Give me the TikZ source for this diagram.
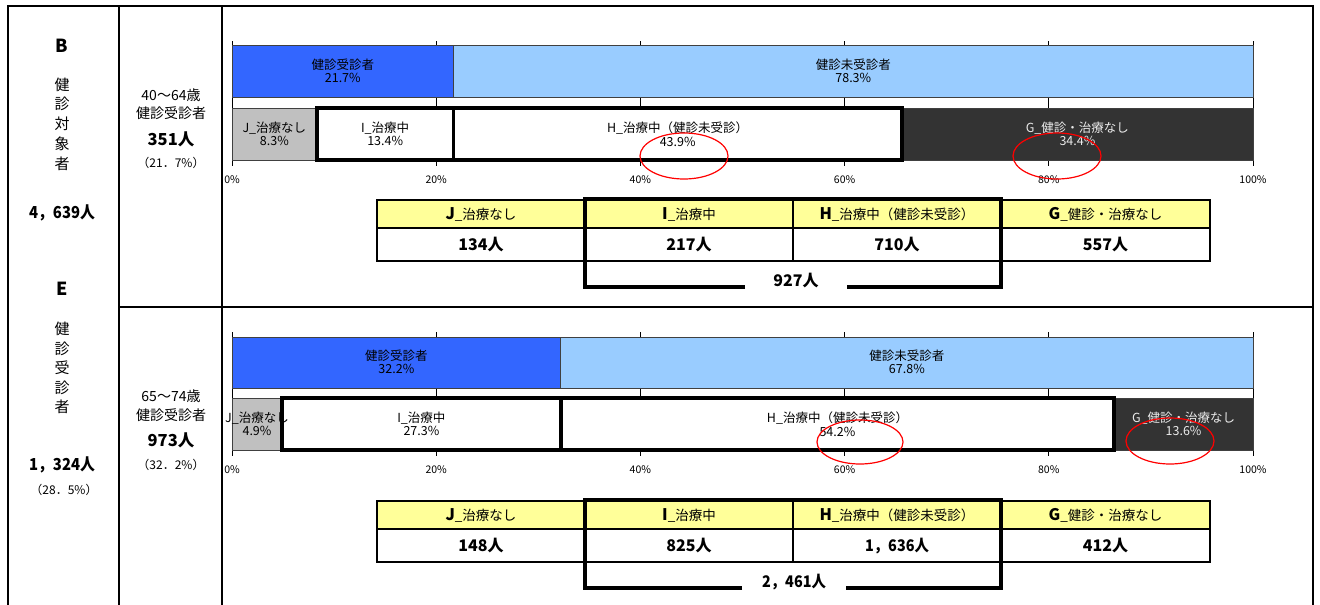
\documentclass[tikz,border=0pt]{standalone}
\usepackage{fontspec}
\setmainfont{Noto Sans CJK JP}
\definecolor{bblue}{HTML}{3366FF}
\definecolor{lblue}{HTML}{99CCFF}
\definecolor{jgray}{HTML}{C0C0C0}
\definecolor{gdark}{HTML}{333333}
\definecolor{hyel}{HTML}{FFFF99}
\newcommand\fs[1]{\fontsize{#1}{#1}\selectfont}
\tikzset{
  frame/.style={line width=2pt},
  lab/.style={align=center, inner sep=0pt, font=\fontsize{12.5}{13.5}\selectfont},
  wlab/.style={lab, text=black!8},
  axl/.style={inner sep=0pt, font=\fs{10.5}},
  seg/.style={draw=black!75, line width=0.8pt},
  thickbox/.style={draw=black, line width=3.6pt},
  oval/.style={draw=red, line width=1.2pt},
  gridl/.style={draw=black, line width=0.8pt},
  cell/.style={draw=black, line width=2pt},
  tframe/.style={draw=black, line width=3.4pt},
  hd/.style={inner sep=0pt},
  val/.style={inner sep=0pt, font=\bfseries\fs{16}},
  big/.style={inner sep=0pt, font=\bfseries\fs{16.5}},
  txt/.style={inner sep=0pt, font=\fs{14}},
  sml/.style={inner sep=0pt, font=\fs{12}},
}
\newcommand\hdr[2]{{\bfseries\fs{16}#1}{\fs{13.5}\_#2}}
\begin{document}
\begin{tikzpicture}[x=1pt,y=-1pt]
\useasboundingbox (0,0) rectangle (1320,605);
% ===== frame =====
\draw[frame] (8,615) -- (8,6) -- (1313,6) -- (1313,615);
\draw[frame] (119,6) -- (119,615);
\draw[frame] (222,6) -- (222,615);
\draw[frame] (119,307) -- (1313,307);
% ===== left column =====
\node[inner sep=0pt, font=\bfseries\fs{18}] (B) at (62,46) {B};
\node[inner sep=0pt, align=center, font=\fontsize{15}{19.7}\selectfont] (Bt) at (62,124) {健\\診\\対\\象\\者};
\node[big] (Bn) at (62,213) {\scalebox{0.9}[1]{4，639人}};
\node[inner sep=0pt, font=\bfseries\fs{18}] (E) at (62,289) {E};
\node[inner sep=0pt, align=center, font=\fontsize{15}{19.5}\selectfont] (Et) at (62,368) {健\\診\\受\\診\\者};
\node[big] (En) at (62,465) {\scalebox{0.9}[1]{1，324人}};
\node[sml] (Ep) at (64,490) {（28．5\%）};
% ===== second column =====
\node[txt] (a1) at (171,95) {40～64歳};
\node[txt] (a2) at (171,113) {健診受診者};
\node[big] (a3) at (171,139) {351人};
\node[sml] (a4) at (171,163) {（21．7\%）};
\node[txt] (b1) at (171,396) {65～74歳};
\node[txt] (b2) at (171,415) {健診受診者};
\node[big] (b3) at (171,440) {973人};
\node[sml] (b4) at (171,465) {（32．2\%）};
% ===== chart 1 =====
\foreach \p in {0,20,...,100} {
  \draw[gridl] ({232+\p*10.21},41) -- ({232+\p*10.21},166);
  \node[axl] (ax1-\p) at ({232+\p*10.21},180) {\p\%};
}
\draw[seg, fill=bblue] (232,45) rectangle ({232+21.7*10.21},97);
\draw[seg, fill=lblue] ({232+21.7*10.21},45) rectangle (1253,97);
\draw[seg, fill=jgray] (232,108) rectangle ({232+8.3*10.21},160);
\draw[seg, fill=white] ({232+8.3*10.21},108) rectangle ({232+65.6*10.21},160);
\draw[seg, fill=gdark] ({232+65.6*10.21},108) rectangle (1253,160);
\node[lab] (c1a) at ({232+10.85*10.21},71) {健診受診者\\21.7\%};
\node[lab] (c1b) at ({232+60.85*10.21},71) {健診未受診者\\78.3\%};
\node[lab] (c1j) at ({232+4.15*10.21},134) {J\_治療なし\\8.3\%};
\node[lab] (c1i) at ({232+15*10.21},134) {I\_治療中\\13.4\%};
\node[lab] (c1h) at ({232+43.65*10.21},134) {H\_治療中（健診未受診）\\43.9\%};
\node[wlab] (c1g) at ({232+82.8*10.21},134) {G\_健診・治療なし\\34.4\%};
\draw[thickbox] ({232+8.3*10.21},108) rectangle ({232+21.7*10.21},160);
\draw[thickbox] ({232+21.7*10.21},108) rectangle ({232+65.6*10.21},160);
\draw[oval] (684,156) ellipse [x radius=44, y radius=23];
\draw[oval] (1057,156) ellipse [x radius=44, y radius=23];
% ===== table 1 =====
\fill[hyel] (377,200) rectangle (1210,228);
\draw[cell] (377,200) rectangle (1210,261);
\draw[cell] (377,228) -- (1210,228);
\foreach \x in {585,793,1001} \draw[cell] (\x,200) -- (\x,261);
\node[hd] (t1h1) at (481,214) {\hdr{J}{治療なし}};
\node[hd] (t1h2) at (689,214) {\hdr{I}{治療中}};
\node[hd] (t1h3) at (897,214) {\hdr{H}{治療中（健診未受診）}};
\node[hd] (t1h4) at (1105.5,214) {\hdr{G}{健診・治療なし}};
\node[val] (t1v1) at (481,245) {134人};
\node[val] (t1v2) at (689,245) {217人};
\node[val] (t1v3) at (897,245) {710人};
\node[val] (t1v4) at (1105.5,245) {557人};
\node[val] (t1tot) at (796,281) {927人};
\draw[tframe] (745,287) -- (585,287) -- (585,199) -- (1001,199) -- (1001,287) -- (847,287);
% ===== chart 2 =====
\foreach \p in {0,20,...,100} {
  \draw[gridl] ({232+\p*10.21},332) -- ({232+\p*10.21},456);
  \node[axl] (ax2-\p) at ({232+\p*10.21},470) {\p\%};
}
\draw[seg, fill=bblue] (232,337) rectangle ({232+32.2*10.21},388);
\draw[seg, fill=lblue] ({232+32.2*10.21},337) rectangle (1253,388);
\draw[seg, fill=jgray] (232,398) rectangle ({232+4.9*10.21},450);
\draw[seg, fill=white] ({232+4.9*10.21},398) rectangle ({232+86.4*10.21},450);
\draw[seg, fill=gdark] ({232+86.4*10.21},398) rectangle (1253,450);
\node[lab] (c2a) at ({232+16.1*10.21},362) {健診受診者\\32.2\%};
\node[lab] (c2b) at ({232+66.1*10.21},362) {健診未受診者\\67.8\%};
\node[lab] (c2j) at ({232+2.45*10.21},424) {J\_治療なし\\4.9\%};
\node[lab] (c2i) at ({232+18.55*10.21},424) {I\_治療中\\27.3\%};
\node[lab] (c2h) at ({232+59.3*10.21},424) {H\_治療中（健診未受診）\\54.2\%};
\node[wlab] (c2g) at ({232+93.2*10.21},424) {G\_健診・治療なし\\13.6\%};
\draw[thickbox] ({232+4.9*10.21},398) rectangle ({232+32.2*10.21},450);
\draw[thickbox] ({232+32.2*10.21},398) rectangle ({232+86.4*10.21},450);
\draw[oval] (860,442) ellipse [x radius=43, y radius=22];
\draw[oval] (1170,441) ellipse [x radius=44, y radius=23];
% ===== table 2 =====
\fill[hyel] (377,501) rectangle (1210,529);
\draw[cell] (377,501) rectangle (1210,562);
\draw[cell] (377,529) -- (1210,529);
\foreach \x in {585,793,1001} \draw[cell] (\x,501) -- (\x,562);
\node[hd] (t2h1) at (481,515) {\hdr{J}{治療なし}};
\node[hd] (t2h2) at (689,515) {\hdr{I}{治療中}};
\node[hd] (t2h3) at (897,515) {\hdr{H}{治療中（健診未受診）}};
\node[hd] (t2h4) at (1105.5,515) {\hdr{G}{健診・治療なし}};
\node[val] (t2v1) at (481,546) {148人};
\node[val] (t2v2) at (689,546) {825人};
\node[val] (t2v3) at (897,546) {\scalebox{0.9}[1]{1，636人}};
\node[val] (t2v4) at (1105.5,546) {412人};
\node[val] (t2tot) at (794,582) {\scalebox{0.9}[1]{2，461人}};
\draw[tframe] (742,588) -- (585,588) -- (585,500) -- (1001,500) -- (1001,588) -- (846,588);
\end{tikzpicture}
\end{document}
